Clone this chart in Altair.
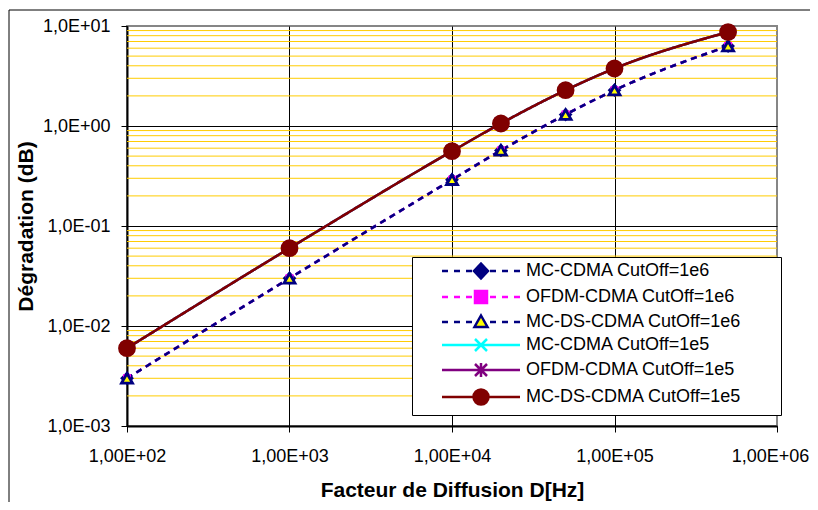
import altair as alt
import pandas as pd

# ---------------- data ----------------
diffusion_hz = [100, 1000, 10000, 20000, 50000, 100000, 500000]

mc_cdma_1e6 = [0.003, 0.030, 0.29, 0.57, 1.30, 2.28, 6.3]
ofdm_cdma_1e6 = [0.003, 0.030, 0.29, 0.57, 1.30, 2.28, 6.3]
mc_ds_cdma_1e6 = [0.003, 0.030, 0.29, 0.57, 1.30, 2.28, 6.3]
mc_cdma_1e5 = [0.006, 0.060, 0.56, 1.06, 2.28, 3.76, 8.7]
ofdm_cdma_1e5 = [0.006, 0.060, 0.56, 1.06, 2.28, 3.76, 8.7]
mc_ds_cdma_1e5 = [0.006, 0.060, 0.56, 1.06, 2.28, 3.76, 8.7]

series_names = [
    "MC-CDMA CutOff=1e6",
    "OFDM-CDMA CutOff=1e6",
    "MC-DS-CDMA CutOff=1e6",
    "MC-CDMA CutOff=1e5",
    "OFDM-CDMA CutOff=1e5",
    "MC-DS-CDMA CutOff=1e5",
]
series_values = [mc_cdma_1e6, ofdm_cdma_1e6, mc_ds_cdma_1e6,
                 mc_cdma_1e5, ofdm_cdma_1e5, mc_ds_cdma_1e5]

x_ticks = [1e2, 1e3, 1e4, 1e5, 1e6]
y_ticks = [1e-3, 1e-2, 1e-1, 1e0, 1e1]
minor_y = [m * d for d in [0.001, 0.01, 0.1, 1.0] for m in range(2, 10)]

# ---------------- styles ----------------
NAVY, MAGENTA, CYAN, PURPLE, DRED, YELLOW = "#000080", "#FF00FF", "#00FFFF", "#800080", "#800000", "#FFFF00"
line_colors = [NAVY, MAGENTA, NAVY, CYAN, PURPLE, DRED]
line_dash = [[6, 5], [6, 5], [6, 5], [1, 0], [1, 0], [1, 0]]
X_PATH = "M-1,-1L1,1M-1,1L1,-1"
STAR_PATH = "M-1,-1L1,1M-1,1L1,-1M0,-1.25L0,1.25"
marker_shapes = ["diamond", "square", "triangle-up", X_PATH, STAR_PATH, "circle"]
marker_fills = [NAVY, MAGENTA, YELLOW, "transparent", "transparent", DRED]
marker_sizes = [120, 36, 120, 100, 150, 250]
marker_strokes = [2, 2, 2.8, 2, 2, 2]

# legend symbols: line (dashed / solid) + marker, built as svg paths
U = 7.0  # pixels per unit for legend symbolSize 196


def f(v):
    return ("%.3f" % (v / U)).rstrip("0").rstrip(".")


def seg(a, b):
    return "M%s,0H%s" % (f(a), f(b))


dashed_line = "".join(seg(a, b) for a, b in [(-39, -33), (-27, -21), (-15, -9), (9, 15), (21, 27), (33, 39)])
solid_line = seg(-39, 39)
m_diamond = "M0,%sL%s,0L0,%sL%s,0Z" % (f(-7.5), f(7), f(7.5), f(-7))
m_square = "M%s,%sH%sV%sH%sZ" % (f(-6), f(-6), f(6), f(6), f(-6))
m_tri = "M0,%sL%s,%sH%sZ" % (f(-6.5), f(6.5), f(5), f(-6.5))
m_x = "M%s,%sL%s,%sM%s,%sL%s,%s" % (f(-6), f(-6), f(6), f(6), f(-6), f(6), f(6), f(-6))
m_star = m_x + "M0,%sL0,%s" % (f(-7), f(7))
r = 7.5
m_circle = "M%s,0A%s,%s 0 1,0 %s,0A%s,%s 0 1,0 %s,0Z" % (f(-r), f(r), f(r), f(r), f(r), f(r), f(-r))
box_reach = "M%s,0" % f(289)  # invisible move-to: widens the legend box to the right
legend_paths = [p + box_reach for p in [dashed_line + m_diamond, dashed_line + m_square, dashed_line + m_tri,
                                        solid_line + m_x, solid_line + m_star, solid_line + m_circle]]
legend_fills = [NAVY, MAGENTA, YELLOW, "transparent", "transparent", DRED]

FONT = "Liberation Sans"

rows = []
for i, (name, vals) in enumerate(zip(series_names, series_values)):
    for d, v in zip(diffusion_hz, vals):
        rows.append({"D": d, "deg": v, "series": name, "idx": i})
df = pd.DataFrame(rows)

xs = alt.Scale(type="log", domain=[100, 1e6], nice=False)
ys = alt.Scale(type="log", domain=[0.001, 10], nice=False)

x_axis = alt.Axis(
    values=x_ticks,
    labelExpr="'1,00E+0' + round(log(datum.value)/LN10)",
    title="Facteur de Diffusion D[Hz]",
    titleFont=FONT, titleFontSize=21, titleFontWeight="bold", titleColor="black", titlePadding=14,
    labelFont=FONT, labelFontSize=18, labelColor="black", labelPadding=15,
    labelFlush=False, labelOverlap=False, labelBound=False,
    labelOffset={"condition": {"test": "datum.value >= 999999", "value": -7}, "value": 0},
    tickSize=6, tickColor="black", tickWidth=1,
    domainColor="black", domainWidth=2,
    grid=True, gridWidth=1,
    gridColor={"condition": {"test": "datum.value >= 999999", "value": "transparent"}, "value": "black"},
)
y_axis = alt.Axis(
    values=y_ticks,
    labelExpr="'1,0E' + (datum.value < 0.999 ? '-0' + round(-log(datum.value)/LN10) : '+0' + round(log(datum.value)/LN10))",
    title="Dégradation (dB)",
    titleFont=FONT, titleFontSize=21, titleFontWeight="bold", titleColor="black", titlePadding=6,
    labelFont=FONT, labelFontSize=18, labelColor="black", labelPadding=11,
    labelFlush=False, labelOverlap=False, labelBound=False,
    tickSize=6, tickColor="black", tickWidth=1,
    domainColor="black", domainWidth=2,
    grid=True, gridWidth=1,
    gridColor={"condition": {"test": "datum.value >= 9.99", "value": "transparent"}, "value": "black"},
)

minor_rules = alt.Chart(pd.DataFrame({"v": minor_y})).mark_rule(
    color="#FFCC00", strokeWidth=1
).encode(y=alt.Y("v:Q", scale=ys, axis=y_axis))

base = alt.Chart(df).encode(
    x=alt.X("D:Q", scale=xs, axis=x_axis),
    y=alt.Y("deg:Q", scale=ys, axis=y_axis),
)

# one line layer and one marker layer per series, in series order (last drawn on top)
line_layers = []
point_layers = []
for i, name in enumerate(series_names):
    sel = base.transform_filter(alt.datum.idx == i)
    line_layers.append(sel.mark_line(
        strokeWidth=2.5, interpolate="monotone", color=line_colors[i], strokeDash=line_dash[i]))
    point_layers.append(sel.mark_point(
        shape=marker_shapes[i], fill=marker_fills[i], stroke=line_colors[i],
        size=marker_sizes[i], strokeWidth=marker_strokes[i], opacity=1, filled=True))

leg = alt.Legend(
    title=None, orient="none", legendX=285, legendY=231,
    fillColor="white", strokeColor="black", padding=5,
    labelFont=FONT, labelFontSize=18, labelColor="black", labelLimit=500,
    symbolSize=196, symbolStrokeWidth=2.5, symbolOffset=55, labelOffset=36, rowPadding=2,
    symbolOpacity=1,
)

legend_layer = alt.Chart(pd.DataFrame({"series": series_names})).transform_filter("false").mark_point(
    filled=True, opacity=1, size=196, strokeWidth=2.5
).encode(
    shape=alt.Shape("series:N", scale=alt.Scale(domain=series_names, range=legend_paths), legend=leg),
    fill=alt.Fill("series:N", scale=alt.Scale(domain=series_names, range=legend_fills), legend=leg),
    stroke=alt.Stroke("series:N", scale=alt.Scale(domain=series_names, range=line_colors), legend=leg),
)

# decorative outer chart frame (only its top and left edges are inside the picture)
frame_data = alt.Data(values=[{"f": 1}])
frame_top = alt.Chart(frame_data).mark_rule(color="black", strokeWidth=1).encode(
    x=alt.value(-118), x2=alt.value(900), y=alt.value(-16))
frame_left = alt.Chart(frame_data).mark_rule(color="black", strokeWidth=1).encode(
    x=alt.value(-118), y=alt.value(-16), y2=alt.value(700))

chart = alt.layer(
    minor_rules, *line_layers, *point_layers, legend_layer, frame_top, frame_left
).properties(
    width=650, height=400,
    autosize=alt.AutoSizeParams(type="none"),
    padding={"left": 119, "top": 18, "right": 33, "bottom": 76},
    background="white",
).configure(font=FONT).configure_view(stroke="#868686", strokeWidth=2)

chart.save("out.html", embed_options={"renderer": "svg", "actions": False})
